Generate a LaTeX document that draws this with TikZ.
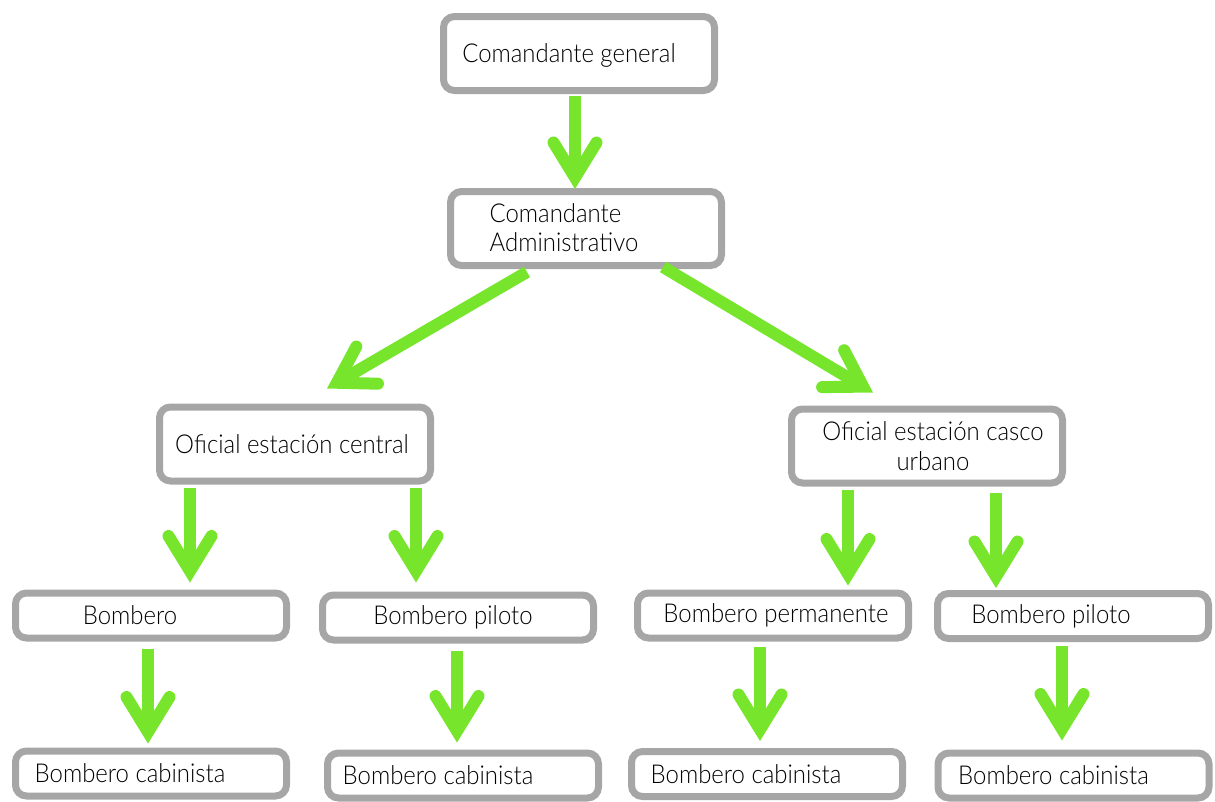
\documentclass[tikz,border=0pt]{standalone}
\usepackage{fontspec}
\setmainfont{Lato Light}[FakeStretch=0.92]
\usetikzlibrary{arrows.meta,calc}
\definecolor{boxgray}{HTML}{A6A6A6}
\definecolor{arrgreen}{HTML}{76E52B}
\begin{document}
\begin{tikzpicture}[x=1pt,y=-1pt,
  box/.style={draw=boxgray, line width=7pt, rounded corners=11pt, fill=white,
    minimum width=271pt, inner sep=0pt},
  bigbox/.style={box, minimum height=74pt},
  smallbox/.style={box, minimum height=45pt},
  lbl/.style={font=\fontsize{26}{29.5}\selectfont, inner sep=0pt, text=black},
  arr/.style={draw=arrgreen, line width=12pt,
    -{Straight Barb[length=35pt, width=43pt, line cap=round, line join=miter]}}
]
\useasboundingbox (0,0) rectangle (1215,801);

\node[bigbox, label={[lbl, xshift=-10pt, yshift=-2pt]center:Comandante general}] (cg) at (579,53.5) {};
\node[bigbox, label={[lbl, align=left, xshift=-22pt, yshift=1pt]center:Comandante\\Administrativo}] (ca) at (586,228.5) {};
\node[bigbox, label={[lbl, xshift=-3pt]center:Oficial estación central}] (oc) at (295,444) {};
\node[bigbox, label={[lbl, align=center, xshift=6pt]center:Oficial estación casco\\urbano}] (ou) at (927,446) {};

\node[smallbox, label={[lbl, xshift=-21pt]center:Bombero}] (b1) at (151,615.5) {};
\node[smallbox, label={[lbl, xshift=-5pt]center:Bombero piloto}] (bp1) at (458,617.5) {};
\node[smallbox, label={[lbl, xshift=3pt]center:Bombero permanente}] (bpm) at (773,615.5) {};
\node[smallbox, label={[lbl, xshift=-22pt]center:Bombero piloto}] (bp2) at (1073,616) {};

\node[smallbox, label={[lbl, xshift=-21pt]center:Bombero cabinista}] (bc1) at (151,773.5) {};
\node[smallbox, label={[lbl, xshift=-25pt]center:Bombero cabinista}] (bc2) at (463,775.5) {};
\node[smallbox, label={[lbl, xshift=-21pt]center:Bombero cabinista}] (bc3) at (767,774) {};
\node[smallbox, label={[lbl, xshift=-20pt]center:Bombero cabinista}] (bc4) at (1073.5,775.5) {};

\draw[arr] ($(cg.south)+(-4,2)$) -- ($(ca.north)+(-11,1)$);
\draw[arr] ($(ca.south)+(-59,3)$) -- ($(oc.north)+(32,-15)$);
\draw[arr] ($(ca.south)+(77,-2)$) -- ($(ou.north)+(-54,-13)$);
\draw[arr] ($(oc.south)+(-105,3)$) -- ($(b1.north)+(39,-7)$);
\draw[arr] ($(oc.south)+(121,3)$) -- ($(bp1.north)+(-42,-9)$);
\draw[arr] ($(ou.south)+(-79,3)$) -- ($(bpm.north)+(75,-4)$);
\draw[arr] ($(ou.south)+(69,6)$) -- ($(bp2.north)+(-77,-2)$);
\draw[arr] ($(b1.south)+(-3,7)$) -- ($(bc1.north)+(-3,-4)$);
\draw[arr] ($(bp1.south)+(-1,7)$) -- ($(bc2.north)+(-6,-7)$);
\draw[arr] ($(bpm.south)+(-13,5)$) -- ($(bc3.north)+(-7,-7)$);
\draw[arr] ($(bp2.south)+(-11,4)$) -- ($(bc4.north)+(-11.5,-9)$);
\end{tikzpicture}
\end{document}
